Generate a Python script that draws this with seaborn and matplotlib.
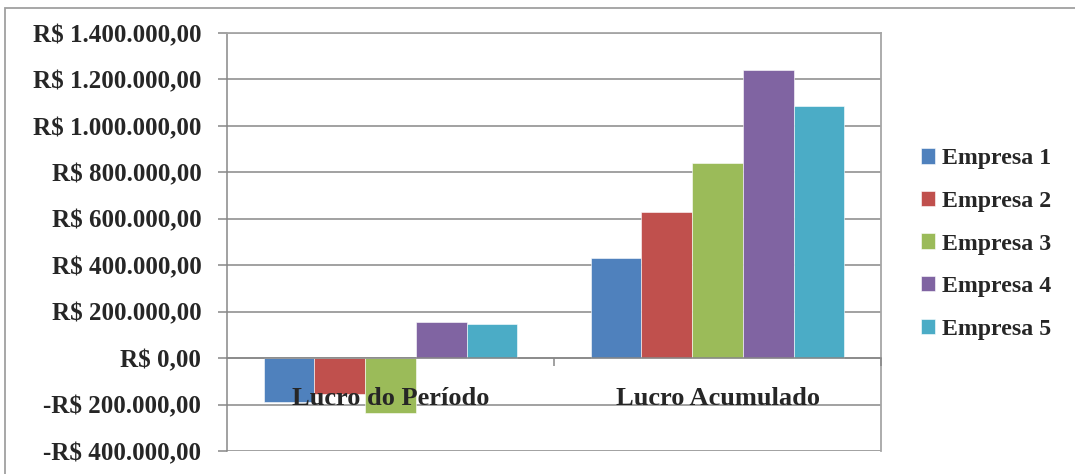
import matplotlib
matplotlib.use("Agg")
import matplotlib.pyplot as plt
from matplotlib.ticker import FuncFormatter, FixedLocator
from matplotlib.patches import Rectangle
import seaborn as sns
import pandas as pd

# Categories and series
categorias = ["Lucro do Período", "Lucro Acumulado"]
empresas = ["Empresa 1", "Empresa 2", "Empresa 3", "Empresa 4", "Empresa 5"]
lucro_periodo = [-187000, -153000, -237000, 155000, 147000]
lucro_acumulado = [433000, 628000, 839000, 1239000, 1084000]
cores = ["#4F81BD", "#C0504D", "#9BBB59", "#8064A2", "#4BACC6"]
y_ticks = [-400000, -200000, 0, 200000, 400000, 600000, 800000,
           1000000, 1200000, 1400000]

df = pd.DataFrame({
    "categoria": [categorias[0]] * len(empresas) + [categorias[1]] * len(empresas),
    "empresa": empresas * 2,
    "valor": lucro_periodo + lucro_acumulado,
})

sns.set_theme(style="white")
plt.rcParams["font.family"] = ["Liberation Serif", "DejaVu Serif"]
plt.rcParams["font.weight"] = "bold"

fig = plt.figure(figsize=(10.75, 4.74), dpi=100)
ax = fig.add_axes([227 / 1075, 23 / 474, 654 / 1075, 418 / 474])

sns.barplot(data=df, x="categoria", y="valor", hue="empresa",
            order=categorias, hue_order=empresas, palette=cores,
            saturation=1, width=0.775, edgecolor="white", linewidth=0.4,
            ax=ax)

GRAY = "#878787"
FS_Y = 18
FS_X = 19
FS_LEG = 17.2

ax.set_ylim(-400000, 1400000)
ax.set_xlim(-0.5, 1.5)
ax.yaxis.set_major_locator(FixedLocator(y_ticks))


def brl(v, pos=None):
    s = f"{abs(v):,.2f}".replace(",", "X").replace(".", ",").replace("X", ".")
    return ("-R$ " if v < 0 else "R$ ") + s


ax.yaxis.set_major_formatter(FuncFormatter(brl))
ax.yaxis.grid(True, color=GRAY, linewidth=1.1)
ax.set_axisbelow(True)
ax.tick_params(axis="y", which="major", left=True, length=6.5, width=1.1,
               color=GRAY, pad=12, labelsize=FS_Y)
for lbl in ax.get_yticklabels():
    lbl.set_fontweight("bold")

# Category axis crosses at zero; ticks between categories
ax.spines["bottom"].set_position(("data", 0))
ax.spines["bottom"].set_color(GRAY)
ax.spines["bottom"].set_linewidth(1.1)
ax.spines["left"].set_color(GRAY)
ax.spines["left"].set_linewidth(1.1)
for side in ("top", "right"):
    ax.spines[side].set_color("#a6a6a6")
    ax.spines[side].set_linewidth(1.3)

ax.set_xticks([0.5, 1.5], minor=True)
ax.tick_params(axis="x", which="minor", bottom=True, length=6, width=1.1,
               color=GRAY, direction="out")
ax.tick_params(axis="x", which="major", bottom=True, length=0, pad=21,
               labelsize=FS_X)
for lbl in ax.get_xticklabels():
    lbl.set_fontweight("bold")
# category names are drawn over the bars
ax.xaxis.set_zorder(5)
ax.set_xlabel("")
ax.set_ylabel("")

# Legend on the right
handles, labels = ax.get_legend_handles_labels()
ax.get_legend().remove()
fig.legend(handles, labels, loc="center left",
           bbox_to_anchor=(911 / 1075, 1 - 244 / 474), frameon=False,
           prop={"family": "Liberation Serif", "weight": "bold", "size": FS_LEG},
           handlelength=0.6, handleheight=0.6, handletextpad=0.3,
           labelspacing=0.9, borderaxespad=0)

# Chart-area frame
fig.patches.append(Rectangle((5.5 / 1075, -0.1), 1.2, 1.1 - 7.5 / 474,
                             transform=fig.transFigure, fill=False,
                             edgecolor="#a0a0a0", linewidth=1.3))

fig.savefig("out.png", dpi=100, facecolor="white")
